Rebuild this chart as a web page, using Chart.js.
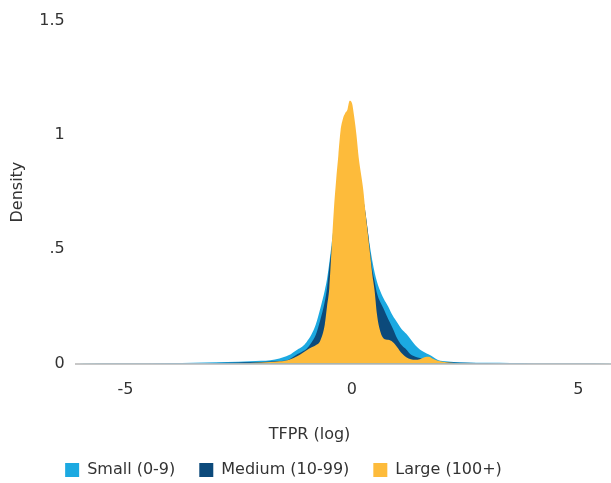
<!DOCTYPE html>
<html>
<head>
<meta charset="utf-8">
<script src="https://cdn.jsdelivr.net/npm/chart.js@4.4.1/dist/chart.umd.min.js"></script>
<style>
  html, body { margin: 0; padding: 0; background: #fff; }
  #wrap { width: 611px; height: 483px; }
</style>
</head>
<body>
<div id="wrap"><canvas id="densityChart"></canvas></div>
<script>
// TFPR (log) grid and kernel density per firm size class
const tfpr = [-6, -5, -4, -3.5, -3, -2.5, -2.25, -2, -1.8, -1.6, -1.4, -1.2, -1.1, -1.0, -0.9, -0.8, -0.7, -0.6, -0.55, -0.5,
  -0.45, -0.4, -0.35, -0.3, -0.25, -0.2, -0.15, -0.1, -0.05, 0, 0.05, 0.1, 0.15, 0.2, 0.25, 0.3, 0.35, 0.4, 0.45, 0.5,
  0.55, 0.6, 0.7, 0.8, 0.9, 1.0, 1.1, 1.2, 1.3, 1.4, 1.5, 1.6, 1.7, 1.8, 1.9, 2.0, 2.25, 2.5, 3, 3.5, 4, 5, 6];

const small = [0.001, 0.002, 0.003, 0.004, 0.006, 0.008, 0.010, 0.012, 0.015, 0.022, 0.036, 0.062, 0.074, 0.095, 0.125, 0.17, 0.24, 0.32, 0.37, 0.44,
  0.52, 0.60, 0.66, 0.72, 0.77, 0.80, 0.83, 0.85, 0.86, 0.86, 0.85, 0.83, 0.80, 0.76, 0.71, 0.65, 0.58, 0.51, 0.45, 0.40,
  0.36, 0.33, 0.285, 0.25, 0.21, 0.18, 0.15, 0.13, 0.105, 0.08, 0.062, 0.05, 0.04, 0.028, 0.016, 0.011, 0.007, 0.005, 0.004, 0.003, 0.002, 0.001, 0.001];

const medium = [0.0005, 0.001, 0.002, 0.002, 0.003, 0.005, 0.006, 0.007, 0.009, 0.011, 0.017, 0.042, 0.052, 0.065, 0.09, 0.125, 0.19, 0.27, 0.33, 0.42,
  0.50, 0.58, 0.65, 0.71, 0.76, 0.80, 0.84, 0.86, 0.88, 0.88, 0.87, 0.85, 0.82, 0.78, 0.72, 0.66, 0.58, 0.49, 0.41, 0.36,
  0.31, 0.28, 0.24, 0.195, 0.155, 0.11, 0.08, 0.062, 0.04, 0.03, 0.024, 0.018, 0.014, 0.011, 0.009, 0.007, 0.005, 0.004, 0.003, 0.002, 0.002, 0.001, 0.0005];

const large = [0, 0, 0, 0, 0, 0.001, 0.003, 0.005, 0.007, 0.010, 0.016, 0.033, 0.045, 0.058, 0.07, 0.08, 0.10, 0.17, 0.25, 0.33,
  0.50, 0.67, 0.80, 0.91, 1.02, 1.07, 1.095, 1.11, 1.15, 1.14, 1.08, 1.00, 0.90, 0.83, 0.76, 0.66, 0.57, 0.48, 0.39, 0.32,
  0.22, 0.16, 0.11, 0.104, 0.095, 0.072, 0.045, 0.028, 0.019, 0.017, 0.019, 0.028, 0.03, 0.02, 0.012, 0.008, 0.003, 0.001, 0, 0, 0, 0, 0];

const seriesNames = ["Small (0-9)", "Medium (10-99)", "Large (100+)"];
const seriesColors = ["#1ca9e1", "#0c4a7b", "#fdbb3b"];
const yTicks = [0, 0.5, 1, 1.5];
const yTickLabels = ["0", ".5", "1", "1.5"];
const xTicks = [-5, 0, 5];

function pts(ys) {
  return tfpr.map((x, i) => ({ x: x, y: ys[i] }));
}

const txt = '#333333';
const fontFam = "'DejaVu Sans', sans-serif";

// legend sits a bit left of centre in the original
const legendNudge = {
  id: 'legendNudge',
  afterLayout(chart) {
    chart.legend.left -= 26;
    chart.legend.right -= 26;
  }
};

var ctx = document.getElementById("densityChart").getContext("2d");
new Chart(ctx, {
  type: "line",
  data: {
    datasets: [small, medium, large].map((ys, i) => ({
      label: seriesNames[i],
      data: pts(ys),
      backgroundColor: seriesColors[i],
      borderColor: seriesColors[i],
      borderWidth: 0,
      pointRadius: 0,
      fill: 'origin',
      cubicInterpolationMode: 'monotone',
      order: 3 - i
    }))
  },
  plugins: [legendNudge],
  options: {
    responsive: true,
    maintainAspectRatio: false,
    animation: false,
    layout: { padding: { top: 8, left: 8, right: 0, bottom: 0 } },
    plugins: {
      legend: {
        position: 'bottom',
        weight: 3000,
        maxHeight: 45,
        labels: {
          boxWidth: 14,
          boxHeight: 14,
          padding: 24,
          color: txt,
          font: { size: 16, family: fontFam },
          sort: (a, b) => a.datasetIndex - b.datasetIndex
        }
      },
      title: {
        display: true,
        position: 'bottom',
        text: 'TFPR (log)',
        color: txt,
        font: { size: 16, family: fontFam, weight: 'normal' },
        padding: { top: 8, bottom: -6 }
      },
      tooltip: { enabled: false }
    },
    scales: {
      x: {
        type: 'linear',
        min: -6.1,
        max: 5.72,
        afterBuildTicks: (axis) => { axis.ticks = xTicks.map(v => ({ value: v })); },
        grid: { display: false, drawTicks: false },
        border: { display: true, color: '#c8c8c8', width: 2 },
        ticks: {
          padding: 17,
          color: txt,
          font: { size: 16, family: fontFam }
        }
      },
      y: {
        min: 0,
        max: 1.5,
        afterBuildTicks: (axis) => { axis.ticks = yTicks.map(v => ({ value: v })); },
        grid: { display: false, drawTicks: false },
        border: { display: false },
        ticks: {
          padding: 11,
          color: txt,
          font: { size: 16, family: fontFam },
          callback: (v) => yTickLabels[yTicks.indexOf(v)]
        },
        title: {
          display: true,
          text: 'Density',
          color: txt,
          font: { size: 16, family: fontFam },
          padding: { top: 0, bottom: 1 }
        }
      }
    }
  }
});
</script>
</body>
</html>
